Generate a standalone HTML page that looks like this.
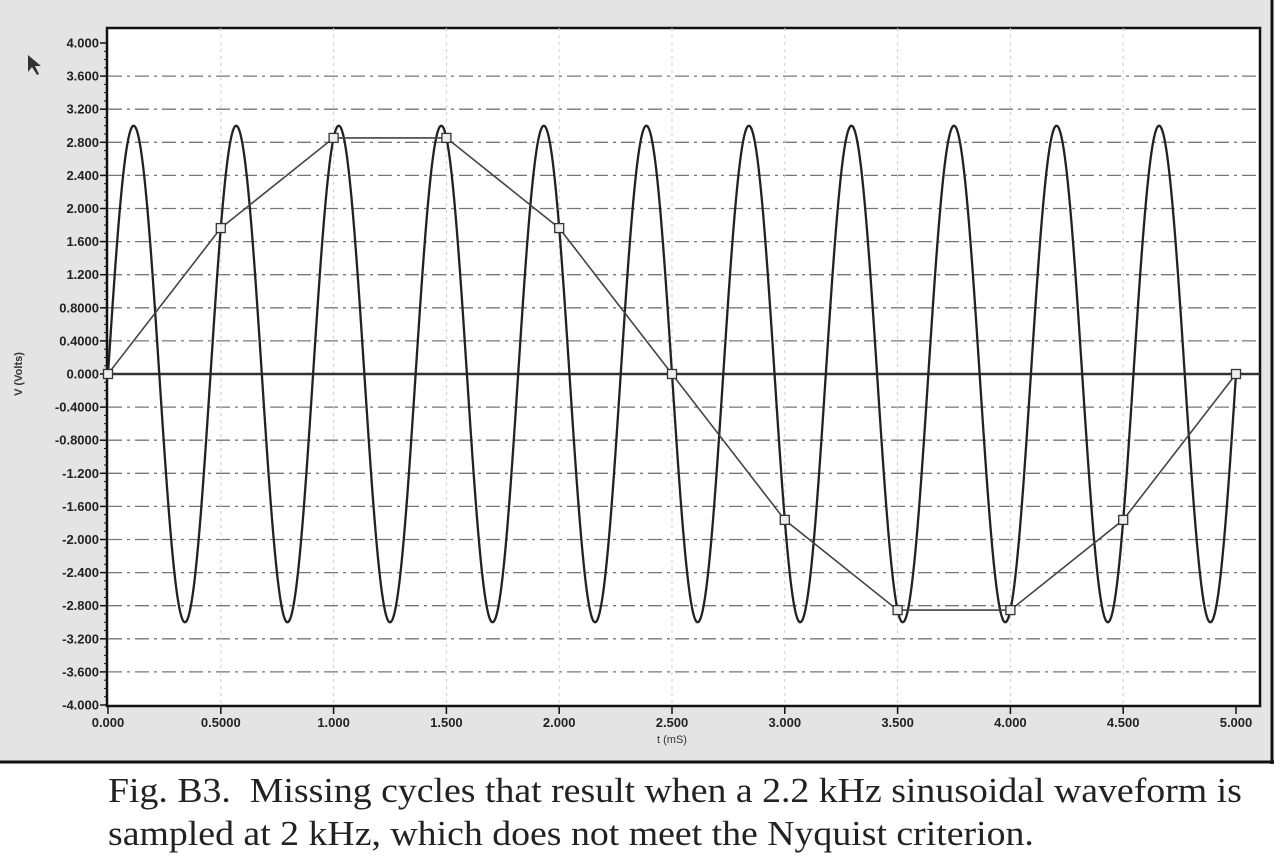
<!DOCTYPE html>
<html><head><meta charset="utf-8"><style>
html,body{margin:0;padding:0;background:#fff;}
body{width:1280px;height:860px;position:relative;overflow:hidden;}
.cap{position:absolute;left:108px;font-family:"Liberation Serif",serif;font-size:35px;line-height:35px;color:#222;white-space:nowrap;transform:scaleX(1.08);transform-origin:0 0;}
</style></head><body>
<svg width="1280" height="860" style="position:absolute;left:0;top:0">
<rect x="0" y="0" width="1272" height="762" fill="#e4e4e4"/>
<line x1="0" y1="762" x2="1274" y2="762" stroke="#111" stroke-width="3"/>
<line x1="1272" y1="0" x2="1272" y2="764" stroke="#111" stroke-width="3"/>
<rect x="107" y="28" width="1153" height="678" fill="#fff" stroke="#111" stroke-width="2.5"/>
<g id="g"></g>
</svg>
<div class="cap" style="top:773px">Fig. B3.&nbsp; Missing cycles that result when a 2.2 kHz sinusoidal waveform is</div>
<div class="cap" style="top:816px">sampled at 2 kHz, which does not meet the Nyquist criterion.</div>
<script>
var g=document.getElementById('g'),s='';
var X=function(t){return 108+t*225.6},Y=function(v){return 374-v*82.75};
var labs=['4.000','3.600','3.200','2.800','2.400','2.000','1.600','1.200','0.8000','0.4000','0.000','-0.4000','-0.8000','-1.200','-1.600','-2.000','-2.400','-2.800','-3.200','-3.600','-4.000'];
for(var i=0;i<=20;i++){var v=4-i*0.4,y=Y(v);
 if(i>0&&i<20&&i!=10)s+='<line x1="108" x2="1260" y1="'+y+'" y2="'+y+'" stroke="#777" stroke-width="1.3" stroke-dasharray="14 5 3 5"/>';
 s+='<line x1="100" x2="108" y1="'+y+'" y2="'+y+'" stroke="#111" stroke-width="1.5"/>';
 s+='<text x="99" y="'+(y+4.5)+'" text-anchor="end" font-family="Liberation Sans,sans-serif" font-size="13" font-weight="bold" fill="#222">'+labs[i]+'</text>';}
for(var i=0;i<=80;i++){var y=Y(4-i*0.1);s+='<line x1="104" x2="108" y1="'+y+'" y2="'+y+'" stroke="#111"/>';}
var xl=['0.000','0.5000','1.000','1.500','2.000','2.500','3.000','3.500','4.000','4.500','5.000'];
for(var i=0;i<=10;i++){var x=X(i*0.5);
 if(i>0&&i<10)s+='<line x1="'+x+'" x2="'+x+'" y1="28" y2="706" stroke="#ccc" stroke-width="1" stroke-dasharray="3 4"/>';
 s+='<line x1="'+x+'" x2="'+x+'" y1="706" y2="714" stroke="#111" stroke-width="1.5"/>';
 s+='<text x="'+x+'" y="727" text-anchor="middle" font-family="Liberation Sans,sans-serif" font-size="13" font-weight="bold" fill="#222">'+xl[i]+'</text>';}
s+='<text x="'+X(2.5)+'" y="743" text-anchor="middle" font-family="Liberation Sans,sans-serif" font-size="11" fill="#333">t (mS)</text>';
s+='<text transform="translate(22,374) rotate(-90)" text-anchor="middle" font-family="Liberation Sans,sans-serif" font-size="11" font-weight="bold" fill="#333">V (Volts)</text>';
s+='<line x1="108" x2="1260" y1="374" y2="374" stroke="#333" stroke-width="2.5"/>';
var d='';for(var k=0;k<=4000;k++){var t=k*5/4000;d+=(k?'L':'M')+X(t).toFixed(2)+' '+Y(3*Math.sin(2*Math.PI*2.2*t)).toFixed(2);}
s+='<path d="'+d+'" fill="none" stroke="#222" stroke-width="2.3"/>';
var p='',b='';for(var i=0;i<=10;i++){var t=i*0.5,x=X(t),y=Y(3*Math.sin(2*Math.PI*2.2*t));p+=(i?'L':'M')+x+' '+y;b+='<rect x="'+(x-4.5)+'" y="'+(y-4.5)+'" width="9" height="9" fill="#eee" stroke="#333" stroke-width="1.3"/>';}
s+='<path d="'+p+'" fill="none" stroke="#444" stroke-width="1.6"/>'+b;
s+='<path d="M28 55 L28 72 L32 67 L37 75 L39 74 L35 66 L41 66 Z" fill="#333"/>';
g.innerHTML=s;
</script>
</body></html>
